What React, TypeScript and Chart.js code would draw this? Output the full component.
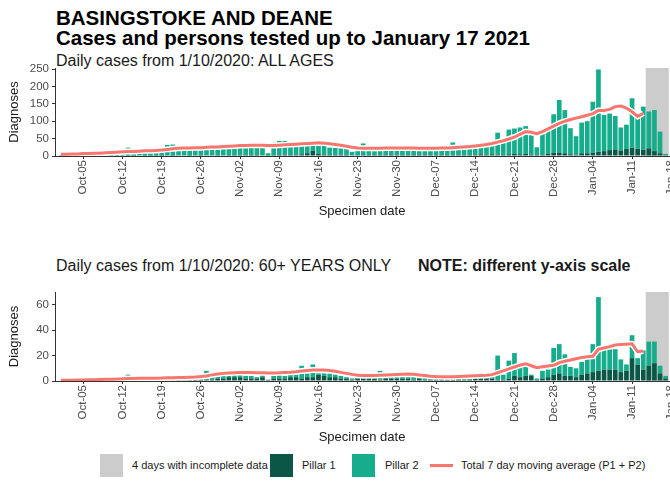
import React, { useEffect, useRef } from "react";
import { Chart, registerables } from "chart.js";
Chart.register(...registerables);

const FONT = "'Liberation Sans', Arial, Helvetica, sans-serif";
Chart.defaults.font.family = FONT;

// x = day index from 1 Oct 2020 (0) to 17 Jan 2021 (108)
const xTickDays = [4, 11, 18, 25, 32, 39, 46, 53, 60, 67, 74, 81, 88, 95, 102, 109];
const xTickLabels = ["Oct-05", "Oct-12", "Oct-19", "Oct-26", "Nov-02", "Nov-09", "Nov-16", "Nov-23", "Nov-30", "Dec-07", "Dec-14", "Dec-21", "Dec-28", "Jan-04", "Jan-11", "Jan-18"];
const incompleteDays = [105, 106, 107, 108];

// ALL AGES
const allPillar1 = [
  0, 0, 1, 0, 1, 0, 1, 1, 0, 1,
  1, 0, 1, 1, 0, 1, 1, 1, 1, 2,
  1, 2, 2, 1, 2, 3, 2, 2, 3, 2,
  3, 3, 3, 4, 3, 3, 2, 1, 3, 3,
  4, 3, 4, 5, 8, 15, 6, 4, 3, 4,
  3, 3, 2, 2, 3, 3, 4, 3, 4, 3,
  4, 3, 3, 4, 3, 4, 3, 3, 4, 3,
  3, 4, 3, 3, 4, 5, 4, 5, 4, 3,
  5, 6, 5, 6, 4, 3, 4, 6, 10, 10,
  8, 5, 4, 8, 8, 10, 12, 14, 17, 19,
  16, 20, 24, 21, 18, 22, 14, 8, 2,
];
const allPillar2 = [
  3, 5, 3, 6, 4, 7, 7, 6, 9, 9,
  8, 11, 23, 9, 12, 12, 13, 14, 15, 30,
  32, 17, 18, 20, 19, 19, 20, 32, 19, 21,
  21, 22, 22, 22, 23, 24, 25, 7, 24, 40,
  39, 25, 25, 25, 24, 18, 27, 25, 21, 19,
  19, 17, 10, 12, 33, 12, 10, 13, 13, 13,
  13, 13, 15, 13, 13, 14, 14, 15, 13, 15,
  36, 15, 17, 31, 18, 20, 24, 26, 63, 43,
  71, 73, 77, 80, 56, 22, 61, 74, 110, 151,
  124, 75, 53, 88, 92, 146, 237, 104, 105, 96,
  66, 70, 142, 92, 124, 106, 118, 62, 4,
];
const allAvg = [
  5, 5, 6, 6, 7, 7, 8, 8, 9, 10,
  11, 12, 13, 13, 14, 15, 15, 16, 17, 19,
  21, 22, 23, 23, 24, 24, 25, 26, 26, 27,
  28, 29, 30, 30, 31, 31, 31, 30, 30, 31,
  32, 33, 34, 35, 36, 37, 38, 37, 35, 33,
  31, 28, 25, 23, 22, 22, 22, 22, 23, 23,
  23, 23, 23, 23, 22, 22, 22, 22, 23, 23,
  24, 25, 26, 27, 29, 31, 33, 36, 40, 44,
  49, 54, 62, 70, 68, 64, 70, 78, 86, 94,
  100, 105, 109, 113, 117, 122, 131, 131, 134, 142,
  144, 138, 127, 114, 123,
];

// 60+ YEARS
const oldPillar1 = [
  0, 0, 0, 0, 0, 0, 0, 1, 0, 0,
  0, 1, 0, 1, 1, 0, 1, 0, 1, 1,
  1, 1, 1, 1, 1, 1, 1, 1, 2, 2,
  3, 3, 3, 2, 2, 2, 3, 1, 2, 2,
  2, 3, 3, 2, 3, 3, 5, 4, 3, 3,
  2, 2, 1, 2, 2, 2, 2, 1, 2, 2,
  2, 2, 2, 1, 2, 1, 1, 1, 2, 1,
  1, 2, 1, 1, 2, 2, 2, 2, 1, 1,
  2, 4, 3, 4, 4, 1, 2, 3, 5, 6,
  4, 4, 3, 5, 6, 7, 8, 9, 9, 9,
  7, 8, 18, 13, 9, 12, 14, 6, 2,
];
const oldPillar2 = [
  0, 1, 0, 1, 0, 1, 1, 1, 1, 0,
  1, 1, 5, 0, 1, 4, 1, 1, 1, 2,
  2, 1, 2, 1, 2, 3, 7, 5, 2, 3,
  3, 2, 2, 2, 2, 1, 2, 0, 2, 3,
  2, 2, 2, 10, 3, 10, 1, 2, 3, 2,
  2, 1, 1, 1, 2, 1, 2, 7, 2, 3,
  2, 3, 2, 2, 1, 2, 1, 1, 1, 2,
  2, 2, 2, 2, 2, 2, 3, 2, 19, 4,
  14, 18, 8, 8, 1, 1, 6, 6, 21, 23,
  17, 7, 7, 10, 12, 22, 58, 16, 16, 16,
  10, 5, 18, 5, 15, 19, 17, 6, 2,
];
const oldAvg = [
  0.5, 0.5, 0.6, 0.7, 0.8, 1, 1, 1.2, 1.3, 1.4,
  1.5, 1.7, 2, 2, 2.1, 2.2, 2.2, 2.2, 2.3, 2.5,
  2.6, 2.7, 2.8, 3, 3.2, 3.5, 4, 4.8, 5.5, 6,
  6.3, 6.5, 6.6, 6.6, 6.6, 6.5, 6.4, 6.3, 6.3, 6.4,
  6.6, 6.8, 7.2, 7.8, 8.3, 8.6, 8.7, 8.6, 8.2, 7.6,
  6.8, 6, 5.2, 4.6, 4.3, 4.3, 4.4, 4.6, 4.8, 5,
  5.2, 5.4, 5.5, 5.3, 4.8, 4.3, 3.8, 3.5, 3.3, 3.3,
  3.4, 3.6, 3.8, 4, 4.2, 4.4, 4.6, 5, 6.5, 8,
  9.5, 11, 12.5, 13.6, 12, 10.4, 11.2, 11.8, 12.3, 14.5,
  15.5, 16.5, 17.5, 18.5, 19, 19.5, 25, 26, 27, 28.3,
  28.8, 29, 29.2, 23, 23.6,
];

const allYTicks = [0, 50, 100, 150, 200, 250];
const oldYTicks = [0, 20, 40, 60];

const GREY = "#cccccc";
const P1C = "#0b5646";
const P2C = "#16ad8c";
const RED = "#f8766d";
const TEXT = "#4d4d4d";
const AXIS = "#333333";

function xy(arr: number[]) {
  return arr.map((v, i) => ({ x: i, y: v }));
}

function makeConfig(p1: number[], p2: number[], avg: number[], yMax: number, yTicks: number[], xAxisHeight: number): any {
  return {
    type: "bar",
    data: {
      datasets: [
        {
          type: "bar",
          label: "4 days with incomplete data",
          data: incompleteDays.map((d) => ({ x: d, y: yMax })),
          backgroundColor: GREY,
          grouped: false,
          stack: "grey",
          barPercentage: 1,
          categoryPercentage: 1,
          order: 5,
        },
        {
          type: "bar",
          label: "Pillar 1",
          data: xy(p1),
          backgroundColor: P1C,
          stack: "cases",
          barPercentage: 0.84,
          categoryPercentage: 1,
          order: 3,
        },
        {
          type: "bar",
          label: "Pillar 2",
          data: xy(p2),
          backgroundColor: P2C,
          stack: "cases",
          barPercentage: 0.84,
          categoryPercentage: 1,
          order: 3,
        },
        {
          type: "line",
          label: "halo",
          data: xy(avg),
          borderColor: "#ffffff",
          borderWidth: 6,
          pointRadius: 0,
          stack: "halo",
          order: 2,
        },
        {
          type: "line",
          label: "Total 7 day moving average (P1 + P2)",
          data: xy(avg),
          borderColor: RED,
          borderWidth: 3,
          pointRadius: 0,
          stack: "avg",
          order: 1,
        },
      ],
    },
    options: {
      animation: false,
      responsive: false,
      maintainAspectRatio: false,
      layout: { padding: { top: 8, right: 1, left: 0, bottom: 0 } },
      plugins: { legend: { display: false }, tooltip: { enabled: false }, title: { display: false } },
      scales: {
        x: {
          type: "linear",
          min: -1.05,
          max: 108.6,
          stacked: true,
          offset: false,
          grid: { display: true, offset: false, drawOnChartArea: false, drawTicks: true, tickLength: 3, color: AXIS },
          border: { display: true, color: AXIS, width: 1 },
          ticks: {
            autoSkip: false,
            maxRotation: 90,
            minRotation: 90,
            padding: 1,
            color: TEXT,
            font: { size: 11.5 },
            callback: (value: any) => {
              const i = xTickDays.indexOf(Number(value));
              return i >= 0 ? xTickLabels[i] : "";
            },
          },
          title: { display: true, text: "Specimen date", color: "#1a1a1a", font: { size: 13 }, padding: { top: 2, bottom: 4 } },
          afterBuildTicks: (s: any) => {
            s.ticks = xTickDays.map((v) => ({ value: v }));
          },
          afterFit: (s: any) => {
            s.height = xAxisHeight;
            s.paddingLeft = 0;
            s.paddingRight = 0;
          },
        },
        y: {
          type: "linear",
          stacked: true,
          min: 0,
          max: yMax,
          grid: { display: true, drawOnChartArea: false, drawTicks: true, tickLength: 3, color: AXIS },
          border: { display: true, color: AXIS, width: 1 },
          ticks: { padding: 3, color: TEXT, font: { size: 11.5 } },
          title: { display: true, text: "Diagnoses", color: "#1a1a1a", font: { size: 13 }, padding: { top: 7, bottom: 0 } },
          afterBuildTicks: (s: any) => {
            s.ticks = yTicks.map((v) => ({ value: v }));
          },
          afterFit: (s: any) => {
            s.width = 55;
            s.paddingTop = 0;
            s.paddingBottom = 0;
          },
        },
      },
    },
  };
}

function Panel(props: { top: number; height: number; p1: number[]; p2: number[]; avg: number[]; yMax: number; yTicks: number[]; xAxisHeight: number }) {
  const ref = useRef<HTMLCanvasElement>(null);
  useEffect(() => {
    const chart = new Chart(ref.current as HTMLCanvasElement, makeConfig(props.p1, props.p2, props.avg, props.yMax, props.yTicks, props.xAxisHeight));
    return () => chart.destroy();
  }, []);
  return (
    <canvas
      ref={ref}
      width={670}
      height={props.height}
      style={{ position: "absolute", left: 0, top: props.top, width: 670, height: props.height }}
    />
  );
}

const txt: React.CSSProperties = { position: "absolute", fontFamily: FONT, color: "#000", whiteSpace: "nowrap" };

export default function App() {
  return (
    <div style={{ position: "absolute", left: 0, top: 0, width: 670, height: 483, background: "#fff", overflow: "hidden" }}>
      <div style={{ ...txt, left: 56, top: 8, fontSize: 20.5, fontWeight: "bold", lineHeight: "20px" }}>
        BASINGSTOKE AND DEANE
        <br />
        Cases and persons tested up to January 17 2021
      </div>
      <div style={{ ...txt, left: 56, top: 51.5, fontSize: 16, lineHeight: "18px", color: "#1a1a1a" }}>Daily cases from 1/10/2020: ALL AGES</div>
      <Panel top={60} height={163} p1={allPillar1} p2={allPillar2} avg={allAvg} yMax={253} yTicks={allYTicks} xAxisHeight={67} />
      <div style={{ ...txt, left: 56, top: 256.5, fontSize: 16, lineHeight: "18px", color: "#1a1a1a" }}>Daily cases from 1/10/2020: 60+ YEARS ONLY</div>
      <div style={{ ...txt, left: 418, top: 256.5, fontSize: 16, lineHeight: "18px", fontWeight: "bold", color: "#1a1a1a" }}>NOTE: different y-axis scale</div>
      <Panel top={284} height={165} p1={oldPillar1} p2={oldPillar2} avg={oldAvg} yMax={70} yTicks={oldYTicks} xAxisHeight={68} />
      {/* legend */}
      <div style={{ position: "absolute", left: 100, top: 454, width: 23, height: 23, background: GREY }} />
      <div style={{ ...txt, left: 132, top: 458, fontSize: 11, lineHeight: "14px", color: "#1a1a1a" }}>4 days with incomplete data</div>
      <div style={{ position: "absolute", left: 270, top: 454, width: 23, height: 23, background: P1C }} />
      <div style={{ ...txt, left: 302, top: 458, fontSize: 11, lineHeight: "14px", color: "#1a1a1a" }}>Pillar 1</div>
      <div style={{ position: "absolute", left: 352, top: 454, width: 23, height: 23, background: P2C }} />
      <div style={{ ...txt, left: 385, top: 458, fontSize: 11, lineHeight: "14px", color: "#1a1a1a" }}>Pillar 2</div>
      <div style={{ position: "absolute", left: 430, top: 464, width: 23, height: 3, background: RED }} />
      <div style={{ ...txt, left: 461, top: 458, fontSize: 11, lineHeight: "14px", color: "#1a1a1a" }}>Total 7 day moving average (P1 + P2)</div>
    </div>
  );
}
